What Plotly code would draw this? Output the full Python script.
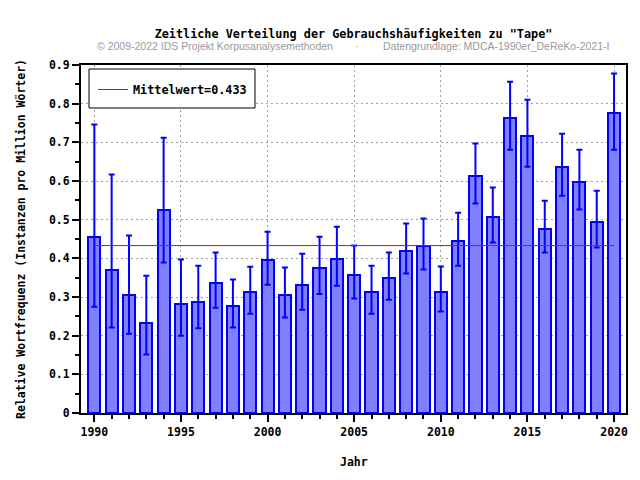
import plotly.graph_objects as go

years = list(range(1990, 2021))
values = [0.454, 0.369, 0.306, 0.234, 0.526, 0.281, 0.288, 0.335, 0.276, 0.312,
          0.395, 0.304, 0.332, 0.376, 0.397, 0.358, 0.314, 0.350, 0.420, 0.431,
          0.314, 0.446, 0.614, 0.508, 0.764, 0.717, 0.477, 0.637, 0.598, 0.495,
          0.775]
upper = [0.746, 0.617, 0.459, 0.355, 0.712, 0.397, 0.381, 0.415, 0.345, 0.378,
         0.469, 0.376, 0.412, 0.456, 0.482, 0.433, 0.381, 0.415, 0.490, 0.503,
         0.379, 0.518, 0.697, 0.583, 0.857, 0.810, 0.549, 0.722, 0.681, 0.575,
         0.878]
lower = [0.275, 0.221, 0.205, 0.151, 0.389, 0.200, 0.219, 0.272, 0.221, 0.257,
         0.332, 0.247, 0.267, 0.308, 0.329, 0.296, 0.257, 0.293, 0.361, 0.371,
         0.2625, 0.381, 0.542, 0.441, 0.681, 0.637, 0.415, 0.562, 0.526, 0.428,
         0.681]
mean_value = 0.433
mean_label = "Mittelwert=0.433"

title_text = 'Zeitliche Verteilung der Gebrauchshäufigkeiten zu "Tape"'
credit_left = "© 2009-2022 IDS Projekt Korpusanalysemethoden"
credit_dot = "·"
credit_right = "Datengrundlage: MDCA-1990er_DeReKo-2021-I"
x_title = "Jahr"
y_title = "Relative Wortfrequenz (Instanzen pro Million Wörter)"

MONO = dict(family="DejaVu Sans Mono", size=11.5, color="black", weight="bold")
MONO_L = dict(family="DejaVu Sans Mono", size=11.8, color="black", weight="bold")
SANS = dict(family="Liberation Sans", size=10.5, color="#999999")

err_plus = [u - v for u, v in zip(upper, values)]
err_minus = [v - l for v, l in zip(values, lower)]

# the page body has an 8px margin; figure is sized/offset to compensate
OFF = 8
W, H = 640 - OFF, 480 - OFF
# plot area in reference (window) pixels
PL, PR, PT, PB = 81, 626, 65, 413
L, R, T, B = PL - OFF, W - (PR - OFF), PT - OFF, H - (PB - OFF)
pw = PR - PL
ph = PB - PT


def px_x(p):
    return (p - PL) / pw


def px_y(p):
    return (PB - p) / ph


fig = go.Figure()

fig.add_trace(go.Scatter(
    x=[years[0], years[-1]], y=[mean_value, mean_value],
    mode="lines", line=dict(color="#ff0000", width=1),
    name=mean_label, showlegend=True, hoverinfo="skip",
))

fig.add_trace(go.Bar(
    x=years, y=values, width=0.7,
    marker=dict(color="#8080ff", line=dict(color="#0000ff", width=2)),
    error_y=dict(type="data", symmetric=False, array=err_plus, arrayminus=err_minus,
                 color="#0000ff", thickness=2, width=3),
    showlegend=False,
))

fig.update_layout(
    width=W, height=H,
    margin=dict(l=L, r=R, t=T, b=B, autoexpand=False),
    paper_bgcolor="white", plot_bgcolor="white",
    bargap=0,
    title=dict(text=title_text, x=0.5, xref="paper", xanchor="center",
               y=1 - (34 - OFF) / H, yref="container", yanchor="middle",
               font=MONO_L),
    showlegend=True,
    legend=dict(x=px_x(93), y=px_y(75), xanchor="left", yanchor="top",
                bgcolor="rgba(0,0,0,0)", borderwidth=0,
                font=MONO_L, itemwidth=30),
    xaxis=dict(
        range=[1989.23, 2020.69], tickmode="linear", tick0=1990, dtick=5,
        ticks="outside", ticklen=7, tickwidth=2, tickcolor="black",
        showline=True, linecolor="black", linewidth=2, mirror=True,
        showgrid=True, gridcolor="#a0a0a0", gridwidth=1, griddash="2px,3px",
        zeroline=False, tickfont=MONO,
        minor=dict(dtick=1, tick0=1990, ticks="outside", ticklen=4, tickwidth=2,
                   tickcolor="black", showgrid=False),
    ),
    yaxis=dict(
        range=[0, 0.9], tickmode="linear", tick0=0, dtick=0.1,
        ticks="outside", ticklen=7, tickwidth=2, tickcolor="black",
        showline=True, linecolor="black", linewidth=2, mirror=True,
        showgrid=True, gridcolor="#a0a0a0", gridwidth=1, griddash="2px,3px",
        zeroline=False, tickfont=MONO,
        minor=dict(dtick=0.05, tick0=0, ticks="outside", ticklen=4, tickwidth=2,
                   tickcolor="black", showgrid=False),
    ),
    shapes=[dict(type="rect", xref="paper", yref="paper",
                 x0=px_x(89), x1=px_x(255), y0=px_y(108), y1=px_y(69),
                 fillcolor="white", line=dict(color="black", width=1), layer="above")],
    annotations=[
        dict(text=credit_left, xref="paper", yref="paper", x=px_x(95), y=px_y(46),
             xanchor="left", yanchor="middle", showarrow=False, font=SANS),
        dict(text=credit_dot, xref="paper", yref="paper", x=px_x(357), y=px_y(46),
             xanchor="center", yanchor="middle", showarrow=False, font=SANS),
        dict(text=credit_right, xref="paper", yref="paper", x=px_x(381), y=px_y(46),
             xanchor="left", yanchor="middle", showarrow=False, font=SANS),
        dict(text=x_title, xref="paper", yref="paper", x=0.5, y=px_y(462),
             xanchor="center", yanchor="middle", showarrow=False, font=MONO),
        dict(text=y_title, xref="paper", yref="paper", x=px_x(21), y=0.5,
             xanchor="center", yanchor="middle", showarrow=False, textangle=-90,
             font=MONO),
    ],
)

fig.write_html("out.html")
